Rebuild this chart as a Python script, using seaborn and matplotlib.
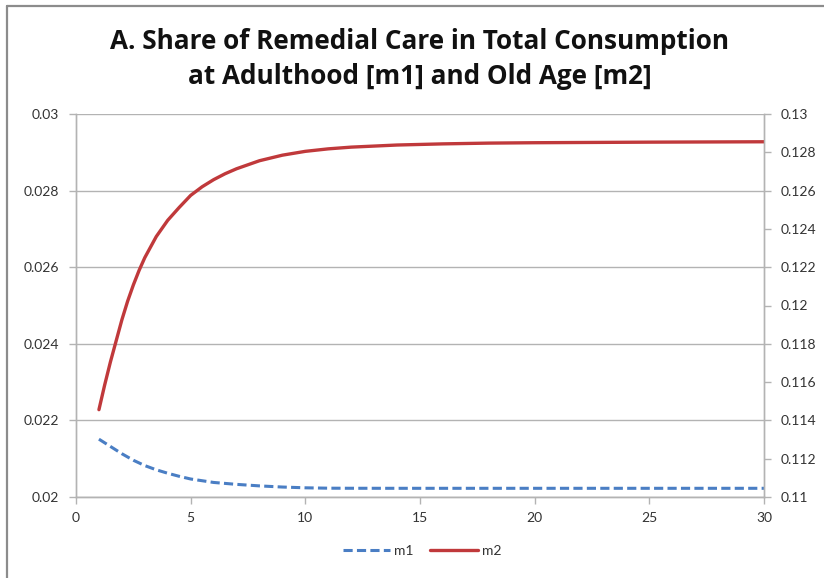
import matplotlib
matplotlib.use("Agg")
import matplotlib.pyplot as plt
import seaborn as sns
import pandas as pd
from matplotlib.lines import Line2D

# values at the listed periods
t_m1 = [1, 1.5, 2, 2.5, 3, 3.5, 4, 4.5, 5, 6, 7, 8, 9, 10, 11, 12, 14, 16, 20, 25, 30]
m1 = [0.02151, 0.02132, 0.02113, 0.02096, 0.02082, 0.02071, 0.02062, 0.02054,
      0.02047, 0.02038, 0.02033, 0.02029, 0.02026, 0.02024, 0.02023, 0.020228,
      0.020227, 0.020227, 0.020227, 0.020227, 0.020227]
t_m2 = [1, 1.25, 1.5, 1.75, 2, 2.25, 2.5, 2.75, 3, 3.5, 4, 4.5, 5, 5.5, 6, 6.5, 7,
        8, 9, 10, 11, 12, 14, 16, 18, 20, 25, 30]
m2 = [0.11456, 0.11585, 0.11705, 0.11815, 0.11925, 0.12022, 0.12107, 0.12183,
      0.12250, 0.12360, 0.12445, 0.12512, 0.12575, 0.12620, 0.12657, 0.12688,
      0.12714, 0.12756, 0.12785, 0.12805, 0.12818, 0.12827, 0.12838, 0.12844,
      0.12848, 0.12850, 0.12853, 0.12855]
left_ticks = [0.02, 0.022, 0.024, 0.026, 0.028, 0.03]
left_labels = ["0.02", "0.022", "0.024", "0.026", "0.028", "0.03"]
right_ticks = [0.11, 0.112, 0.114, 0.116, 0.118, 0.12, 0.122, 0.124, 0.126, 0.128, 0.13]
right_labels = ["0.11", "0.112", "0.114", "0.116", "0.118", "0.12", "0.122", "0.124", "0.126", "0.128", "0.13"]
x_ticks = [0, 5, 10, 15, 20, 25, 30]
title = "A. Share of Remedial Care in Total Consumption\nat Adulthood [m1] and Old Age [m2]"

sns.set_theme(style="white")
plt.rcParams['font.family'] = ['Lato', 'DejaVu Sans']

df1 = pd.DataFrame({"t": t_m1, "m1": m1})
df2 = pd.DataFrame({"t": t_m2, "m2": m2})

W, H = 824, 578
fig = plt.figure(figsize=(W / 100, H / 100), dpi=100)
L, R, T, B = 76, 764, 114, 497
ax = fig.add_axes([L / W, 1 - B / H, (R - L) / W, (B - T) / H])
ax2 = ax.twinx()

blue = "#4a7ec4"
red = "#c0393b"
grid = "#b3b3b3"
tc = "#333333"
dash = (0, (3, 1.4))

sns.lineplot(data=df1, x="t", y="m1", ax=ax, color=blue, linewidth=2.2, linestyle=dash)
sns.lineplot(data=df2, x="t", y="m2", ax=ax2, color=red, linewidth=2.4)

ax.set_xlim(0, 30)
ax.set_ylim(0.02, 0.03)
ax2.set_ylim(0.11, 0.13)
ax.set_xticks(x_ticks)
ax.set_xticklabels([str(v) for v in x_ticks])
ax.set_yticks(left_ticks)
ax.set_yticklabels(left_labels)
ax2.set_yticks(right_ticks)
ax2.set_yticklabels(right_labels)
ax.set_xlabel("")
ax.set_ylabel("")
ax2.set_ylabel("")

for a in (ax, ax2):
    a.spines["top"].set_visible(False)
    for s in ("left", "right", "bottom"):
        a.spines[s].set_color(grid)
        a.spines[s].set_linewidth(1)
    a.tick_params(axis="both", which="major", length=5, width=1, color=grid,
                  labelsize=10, labelcolor=tc, direction="out")
ax.tick_params(axis="y", left=True, right=False, pad=7)
ax.tick_params(axis="x", bottom=True, pad=6)
ax2.tick_params(axis="y", right=True, left=False, pad=7)
ax.grid(axis="y", color=grid, linewidth=1)
ax.set_axisbelow(True)

fig.text(420 / W, 1 - 59 / H, title, ha="center", va="center", fontsize=18.8, fontweight="bold",
         color="#111111", linespacing=1.36, family=["Open Sans", "DejaVu Sans"])

handles = [Line2D([], [], color=blue, linewidth=2.2, linestyle=dash),
           Line2D([], [], color=red, linewidth=2.4)]
fig.legend(handles, ["m1", "m2"], loc="center", bbox_to_anchor=(422 / W, 1 - 551 / H),
           ncol=2, frameon=False, fontsize=10, handlelength=3.4, columnspacing=1.2,
           handletextpad=0.3, labelcolor=tc)

# outer chart border (top and left edges visible)
fig.add_artist(Line2D([7.5 / W, 1], [1 - 5.5 / H, 1 - 5.5 / H], transform=fig.transFigure,
                      color="#8c8c8c", linewidth=1.6))
fig.add_artist(Line2D([7.5 / W, 7.5 / W], [0, 1 - 5.5 / H], transform=fig.transFigure,
                      color="#8c8c8c", linewidth=1.6))

fig.savefig("out.png", dpi=100)
